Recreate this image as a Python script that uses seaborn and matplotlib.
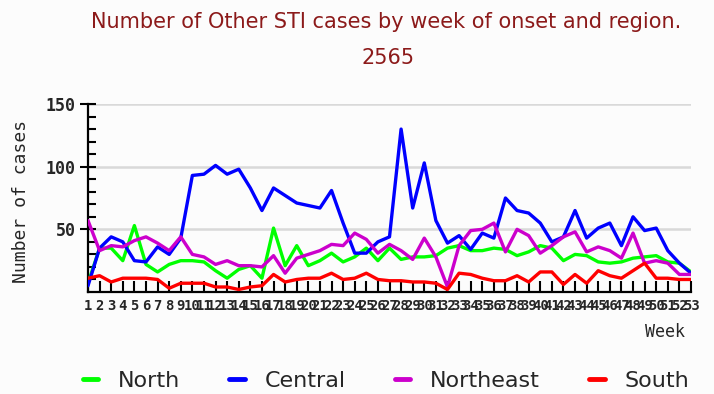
import matplotlib
matplotlib.use("Agg")
import matplotlib.pyplot as plt
import seaborn as sns
import pandas as pd
import numpy as np

# Weekly case counts per region
weeks = list(range(1, 54))
north = [7, 35, 35, 25, 53, 22, 16, 22, 25, 25, 24, 17, 11, 18, 21, 11, 51, 21, 37, 21,
         25, 31, 24, 28, 35, 25, 35, 26, 28, 28, 29, 35, 37, 33, 33, 35, 34, 29, 32, 37,
         35, 25, 30, 29, 24, 23, 24, 27, 28, 29, 24, 23, 16]
central = [5, 35, 44, 40, 25, 24, 36, 30, 43, 93, 94, 101, 94, 98, 83, 65, 83, 77, 71, 69,
           67, 81, 55, 31, 31, 40, 44, 130, 67, 103, 57, 39, 45, 34, 47, 43, 75, 65, 63, 55,
           40, 44, 65, 43, 51, 55, 37, 60, 49, 51, 33, 23, 15]
northeast = [57, 33, 37, 36, 41, 44, 39, 33, 44, 30, 28, 22, 25, 21, 21, 20, 29, 15, 27, 30,
             33, 38, 37, 47, 42, 31, 38, 33, 26, 43, 28, 4, 37, 49, 50, 55, 32, 50, 45, 31,
             37, 44, 48, 32, 36, 33, 27, 47, 23, 25, 23, 14, 14]
south = [11, 13, 8, 11, 11, 11, 10, 3, 7, 7, 7, 4, 4, 2, 4, 5, 14, 8, 10, 11,
         11, 15, 10, 11, 15, 10, 9, 9, 8, 8, 7, 2, 15, 14, 11, 9, 9, 13, 8, 16,
         16, 6, 14, 7, 17, 13, 11, 17, 23, 11, 11, 10, 10]
regions = ["North", "Central", "Northeast", "South"]
colors = ["#00ff00", "#0000ff", "#cc00cc", "#ff0000"]
y_ticks = [50, 100, 150]

df = pd.DataFrame({
    "Week": weeks * 4,
    "Cases": north + central + northeast + south,
    "Region": [r for r in regions for _ in weeks],
})

sns.set_style("white")
plt.rcParams["font.family"] = ["DejaVu Sans"]

W, H = 714, 394
fig = plt.figure(figsize=(W / 100, H / 100), dpi=100, facecolor="#fcfcfc")
ax = fig.add_axes([88 / W, 1 - 292 / H, 603 / W, 188 / H], facecolor="#fcfcfc")

sns.lineplot(data=df, x="Week", y="Cases", hue="Region", hue_order=regions,
             palette=colors, linewidth=2.4, ax=ax, zorder=3)

ax.set_xlim(1, 53)
ax.set_ylim(0, 150)
ax.set_yticks(y_ticks)
ax.set_yticks([v for v in range(10, 150, 10) if v % 50], minor=True)
ax.set_xticks(weeks)
ax.set_xticklabels([str(w) for w in weeks], family="DejaVu Sans Mono", fontsize=10,
                   fontweight="bold")
ax.set_yticklabels([str(v) for v in y_ticks], family="DejaVu Sans Mono", fontsize=12,
                   fontweight="bold")
ax.yaxis.grid(True, color="#d9d9d9", linewidth=1.8)
ax.xaxis.grid(False)
ax.set_axisbelow(True)

for side in ["top", "right"]:
    ax.spines[side].set_visible(False)
for side in ["left", "bottom"]:
    ax.spines[side].set_color("black")
    ax.spines[side].set_linewidth(1.6)

ax.tick_params(axis="x", direction="in", length=8, width=1.5, color="black", pad=5,
               bottom=True)
ax.tick_params(axis="y", which="major", direction="inout", length=12, width=1.5,
               color="black", pad=3, left=True)
ax.tick_params(axis="y", which="minor", direction="in", length=6, width=1.5,
               color="black", left=True)

ax.set_xlabel("")
ax.set_ylabel("Number of cases", family="DejaVu Sans Mono", fontsize=13)
ax.yaxis.set_label_coords(-0.096, 0.484)

fig.text(386 / W, 1 - 22 / H, "Number of Other STI cases by week of onset and region.",
         ha="center", va="center", color="#8c1a1a", fontsize=15)
fig.text(388 / W, 1 - 58 / H, "2565", ha="center", va="center", color="#8c1a1a",
         fontsize=15)
fig.text(665 / W, 1 - 332 / H, "Week", ha="center", va="center",
         family="DejaVu Sans Mono", fontsize=12)

sns.move_legend(ax, "center", bbox_to_anchor=(386 / W, 1 - 381 / H),
                bbox_transform=fig.transFigure, ncol=4, title=None, frameon=False,
                fontsize=16, handlelength=0.7, handletextpad=0.9, columnspacing=2.2)
for line in ax.get_legend().get_lines():
    line.set_linewidth(3.5)

fig.savefig("out.png", dpi=100, facecolor=fig.get_facecolor())
